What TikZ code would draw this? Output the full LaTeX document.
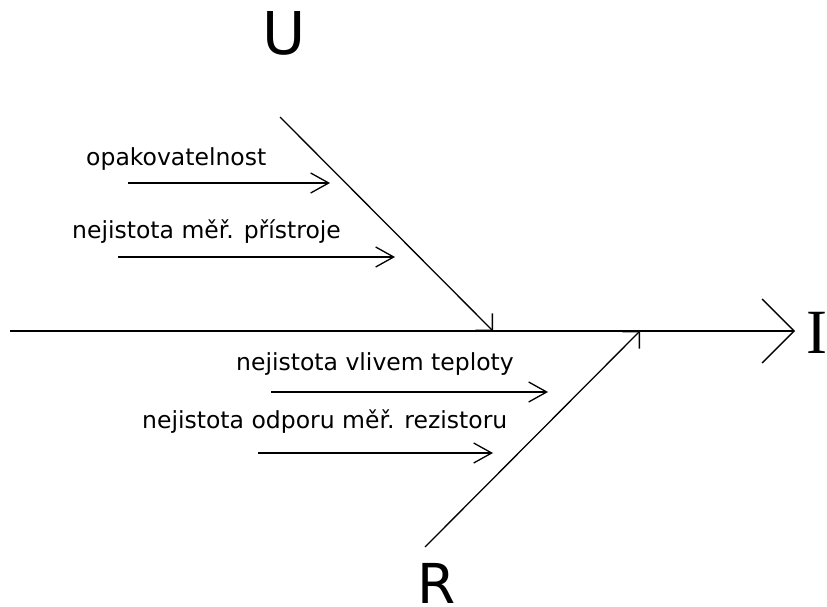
\documentclass[tikz,border=0pt]{standalone}
\usepackage{fontspec}
\newfontfamily\labfont{DejaVu Sans}
\newfontfamily\serfont{Liberation Serif}
\usetikzlibrary{arrows.meta}
\begin{document}
\begin{tikzpicture}[x=1pt,y=-1pt,
  line/.style={line width=1.3pt},
  smallarrow/.style={line, -{Straight Barb[length=18pt,width=20pt]}},
  spinearrow/.style={line, -{Straight Barb[length=12pt,width=24pt]}},
  mainarrow/.style={line, -{Straight Barb[length=32pt,width=64pt]}},
  lab/.style={inner sep=0pt, anchor=base west, font=\labfont\fontsize{23.5}{28}\selectfont},
  big/.style={inner sep=0pt, anchor=base, font=\labfont\fontsize{59}{70}\selectfont},
  bigser/.style={inner sep=0pt, anchor=base, font=\serfont\fontsize{63}{75}\selectfont}]
\useasboundingbox (0,0) rectangle (827,607);

% spine
\coordinate (s0) at (10,331);
\coordinate (s1) at (795,331);
\draw[mainarrow] (s0) -- (s1);
\node[bigser] (I) at (817,353) {I};

% upper bone
\coordinate (u0) at (280,117);
\coordinate (u1) at (493,331);
\draw[spinearrow] (u0) -- (u1);
\node[big] (U) at (284,55) {U};

% lower bone
\coordinate (r0) at (425,547);
\coordinate (r1) at (640,331);
\draw[spinearrow] (r0) -- (r1);
\node[big, font=\labfont\fontsize{55}{66}\selectfont] (R) at (437,603) {R};

% causes
\node[lab] (t1) at (86,165) {opakovatelnost};
\coordinate (a1s) at (128,183); \coordinate (a1e) at (330,183);
\draw[smallarrow] (a1s) -- (a1e);

\node[lab] (t2) at (72,238) {nejistota měř. přístroje};
\coordinate (a2s) at (118,257); \coordinate (a2e) at (395,257);
\draw[smallarrow] (a2s) -- (a2e);

\node[lab] (t3) at (236,370) {nejistota vlivem teploty};
\coordinate (a3s) at (271,392); \coordinate (a3e) at (548,392);
\draw[smallarrow] (a3s) -- (a3e);

\node[lab] (t4) at (142,428) {nejistota odporu měř. rezistoru};
\coordinate (a4s) at (258,453); \coordinate (a4e) at (493,453);
\draw[smallarrow] (a4s) -- (a4e);
\end{tikzpicture}
\end{document}
